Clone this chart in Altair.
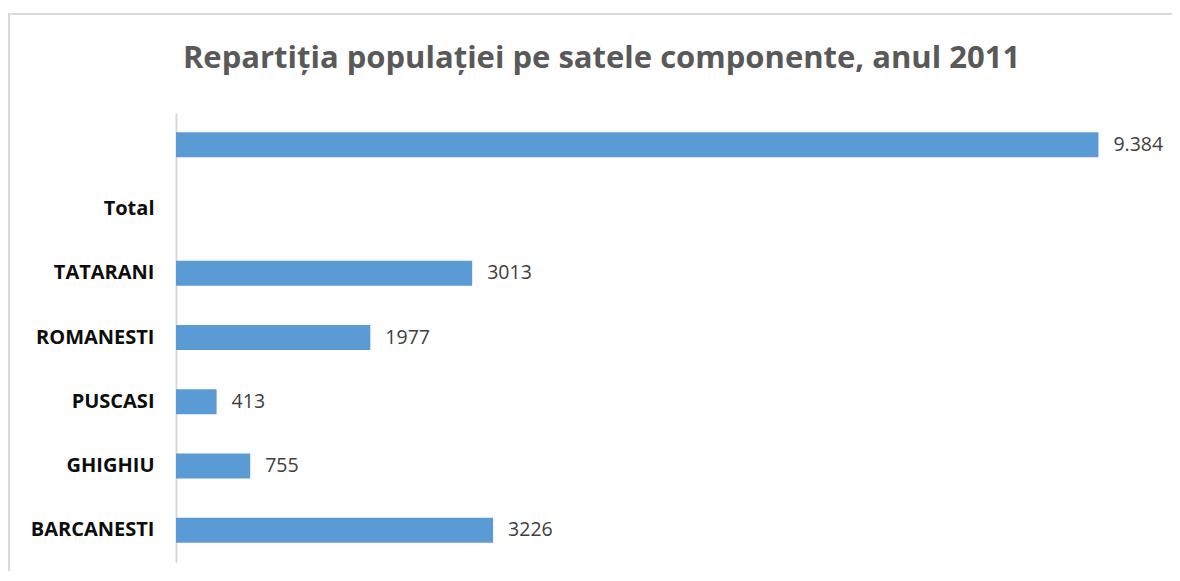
import altair as alt
import pandas as pd

categories = [" ", "Total", "TATARANI", "ROMANESTI", "PUSCASI", "GHIGHIU", "BARCANESTI"]
values = [9384, None, 3013, 1977, 413, 755, 3226]
value_labels = ["9.384", "", "3013", "1977", "413", "755", "3226"]

df = pd.DataFrame({"sat": categories, "populatie": values, "eticheta": value_labels})

FONT = "Open Sans"

y_enc = alt.Y(
    "sat:N",
    sort=categories,
    scale=alt.Scale(domain=categories, paddingInner=0.61, paddingOuter=0.3),
    axis=alt.Axis(
        title=None,
        ticks=False,
        domainColor="#d9d9d9",
        domainWidth=2,
        labelPadding=22,
        labelFontSize=20,
        labelFont=FONT,
        labelFontWeight="bold",
        labelColor="#0d0d0d",
        grid=False,
    ),
)
x_enc = alt.X("populatie:Q", scale=alt.Scale(domain=[0, 10000], nice=False), axis=None)

bars = alt.Chart(df).mark_bar(color="#5b9bd5").encode(y=y_enc, x=x_enc)

labels = alt.Chart(df).mark_text(
    align="left", baseline="middle", dx=15, fontSize=19.5, font=FONT, color="#404040"
).encode(y=alt.Y("sat:N", sort=categories), x="populatie:Q", text="eticheta:N")

frame = alt.Chart(df).mark_rect(
    fill=None, stroke="#d9d9d9", strokeWidth=2
).encode(
    x=alt.value(-167), x2=alt.value(1100), y=alt.value(-99), y2=alt.value(600)
)

chart = alt.layer(frame, bars, labels).properties(
    width=983,
    height=449,
    autosize=alt.AutoSizeParams(type="none"),
    padding={"left": 168, "top": 105, "right": 13, "bottom": 9},
    title=alt.TitleParams(
        "Repartiția populației pe satele componente, anul 2011",
        font=FONT,
        fontSize=31,
        fontWeight="bold",
        color="#595959",
        anchor="middle",
        frame="group",
        dx=-66,
        baseline="alphabetic",
        offset=-86,
    ),
).configure_view(stroke=None)

chart.save("out.html", embed_options={"renderer": "svg", "actions": False})
